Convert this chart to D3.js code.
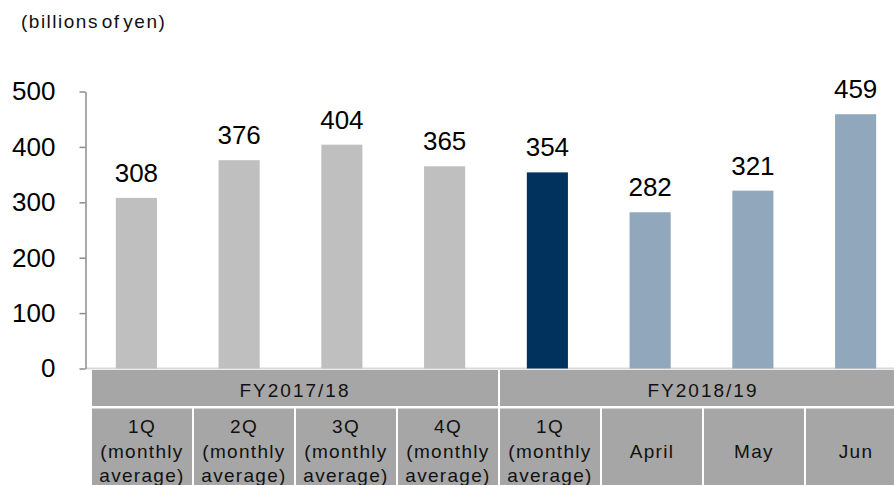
<!DOCTYPE html>
<html>
<head>
<meta charset="utf-8">
<script src="https://cdn.jsdelivr.net/npm/d3@7/dist/d3.min.js"></script>
<style>
  body { margin: 0; background: #fff; }
  svg { display: block; font-family: "Liberation Sans", Arial, sans-serif; }
</style>
</head>
<body>
<svg width="894" height="485"></svg>
<script>
// ---------- data ----------
var categories = ["1Q17", "2Q17", "3Q17", "4Q17", "1Q18", "Apr18", "May18", "Jun18"];
var values = [308, 376, 404, 365, 354, 282, 321, 459];
var barKinds = ["prev", "prev", "prev", "prev", "quarter", "month", "month", "month"];
var cellLabels = [
    ["1Q", "(monthly", "average)"],
    ["2Q", "(monthly", "average)"],
    ["3Q", "(monthly", "average)"],
    ["4Q", "(monthly", "average)"],
    ["1Q", "(monthly", "average)"],
    ["April"],
    ["May"],
    ["Jun"]
];
var fiscalYears = ["FY2017/18", "FY2018/19"];
var fiscalYearCounts = [4, 4];
var yTicks = [0, 100, 200, 300, 400, 500];

var svg = d3.select("svg");

var kindColor = { prev: "#bfbfbf", quarter: "#00325d", month: "#91a7bc" };

// ---------- scales ----------
var y = d3.scaleLinear().domain([0, 500]).range([368.5, 91.5]);
var xBar = d3.scaleBand().domain(categories).range([85, 907]).paddingInner(0.6).paddingOuter(0.3);
var xCell = d3.scaleBand().domain(categories).range([92, 908]);

// unit note
svg.append("text")
    .attr("x", 21).attr("y", 28)
    .attr("font-size", "19px")
    .attr("letter-spacing", "1.5px")
    .attr("word-spacing", "-4px")
    .attr("fill", "#111")
    .text("(billions of yen)");

// baseline
svg.append("line")
    .attr("x1", 86).attr("x2", 894)
    .attr("y1", 368.5).attr("y2", 368.5)
    .attr("stroke", "#d9d9d9").attr("stroke-width", 2);

// y axis
var yAxisG = svg.append("g")
    .attr("transform", "translate(85.5,0)")
    .call(d3.axisLeft(y).tickValues(yTicks).tickSize(6).tickSizeOuter(0).tickPadding(24));
yAxisG.select(".domain").attr("stroke", "#8c8c8c").attr("stroke-width", 1.5);
yAxisG.selectAll(".tick line").attr("stroke", "#8c8c8c").attr("stroke-width", 1.5);
yAxisG.selectAll(".tick text")
    .attr("font-size", "26px")
    .attr("font-family", "Liberation Sans, Arial, sans-serif")
    .attr("fill", "#000");

// bars
svg.append("g").selectAll("rect")
    .data(categories)
    .enter()
    .append("rect")
    .attr("x", function(d) { return xBar(d); })
    .attr("y", function(d, i) { return y(values[i]); })
    .attr("width", xBar.bandwidth())
    .attr("height", function(d, i) { return y(0) - y(values[i]); })
    .attr("fill", function(d, i) { return kindColor[barKinds[i]]; });

// value labels
svg.append("g").selectAll("text")
    .data(categories)
    .enter()
    .append("text")
    .attr("x", function(d) { return xBar(d) + xBar.bandwidth() / 2; })
    .attr("y", function(d, i) { return y(values[i]) - 16; })
    .attr("text-anchor", "middle")
    .attr("font-size", "26px")
    .attr("fill", "#000")
    .text(function(d, i) { return values[i]; });

// ---------- category table ----------
var step = xCell.step();
var start = 0;
fiscalYears.forEach(function(fy, k) {
    var x0 = xCell(categories[start]);
    var w = fiscalYearCounts[k] * step - 2;
    svg.append("rect")
        .attr("x", x0).attr("y", 370)
        .attr("width", w).attr("height", 36)
        .attr("fill", "#a6a6a6");
    svg.append("text")
        .attr("x", x0 + w / 2).attr("y", 397)
        .attr("text-anchor", "middle")
        .attr("font-size", "19px")
        .attr("letter-spacing", "2px")
        .attr("fill", "#111")
        .text(fy);
    start += fiscalYearCounts[k];
});

var cells = svg.append("g").selectAll("g")
    .data(categories)
    .enter()
    .append("g")
    .attr("transform", function(d) { return "translate(" + xCell(d) + ",408.5)"; });

cells.append("rect")
    .attr("width", step - 2)
    .attr("height", 90)
    .attr("fill", "#a6a6a6");

cells.each(function(d, i) {
    var lines = cellLabels[i];
    var g = d3.select(this);
    var firstBaseline = lines.length === 1 ? 49.5 : 24.5;
    lines.forEach(function(t, j) {
        g.append("text")
            .attr("x", (step - 2) / 2)
            .attr("y", firstBaseline + j * 24.5)
            .attr("text-anchor", "middle")
            .attr("font-size", "19px")
            .attr("letter-spacing", "1.3px")
            .attr("fill", "#111")
            .text(t);
    });
});
</script>
</body>
</html>
